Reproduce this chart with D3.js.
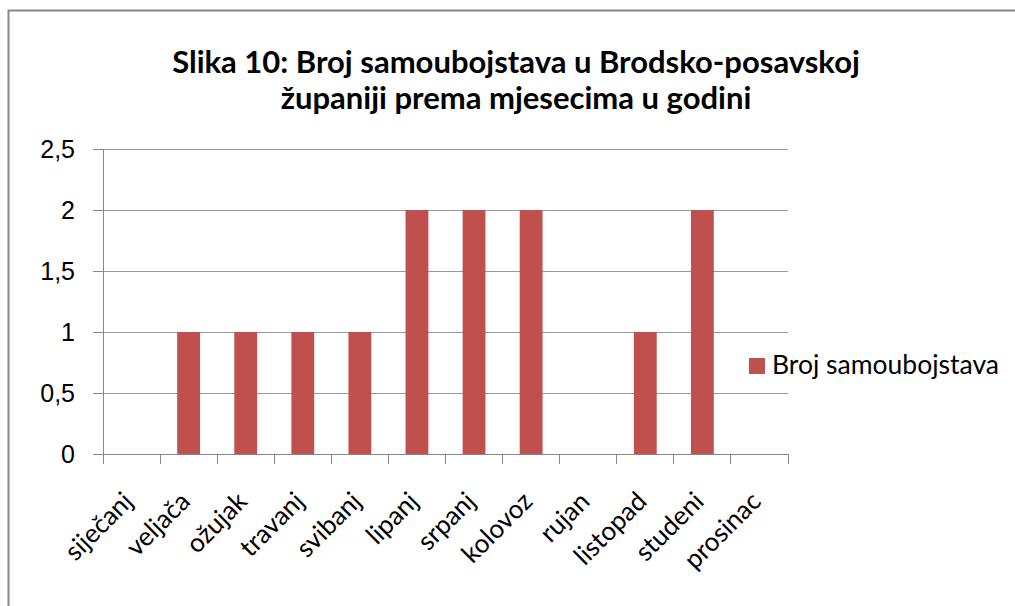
<!DOCTYPE html>
<meta charset="utf-8">
<style>
body { margin: 0; background: #fff; }
svg { font-family: Lato, "Open Sans", sans-serif; }
.axis text { font-size: 25px; fill: #000; }
.axis .xl { font-size: 26px; }
.axis path, .axis line { stroke: #888; fill: none; shape-rendering: crispEdges; }
.grid line { stroke: #999; shape-rendering: crispEdges; }
.title { font-size: 31px; font-weight: bold; }
.legend text { font-size: 26.5px; }
</style>
<body>
<div id="chart"></div>
<script src="https://cdn.jsdelivr.net/npm/d3@7"></script>
<script>
var months = ["siječanj", "veljača", "ožujak", "travanj", "svibanj", "lipanj",
              "srpanj", "kolovoz", "rujan", "listopad", "studeni", "prosinac"];
var counts = [0, 1, 1, 1, 1, 2, 2, 2, 0, 1, 2, 0];
var yTicks = [0, 0.5, 1, 1.5, 2, 2.5];
var seriesName = "Broj samoubojstava";
var titleLines = ["Slika 10: Broj samoubojstava u Brodsko-posavskoj",
                  "županiji prema mjesecima u godini"];

var W = 1015, H = 606,
    margin = {top: 149, left: 103, right: 1015 - 788, bottom: 606 - 454},
    width = W - margin.left - margin.right,
    height = H - margin.top - margin.bottom;

var svg = d3.select("#chart").append("svg")
    .attr("width", W).attr("height", H);

// outer chart border
svg.append("rect")
    .attr("x", 8.5).attr("y", 10.5)
    .attr("width", W + 20).attr("height", H + 20)
    .attr("fill", "#fff").attr("stroke", "#888").attr("stroke-width", 2);

svg.append("g").attr("class", "title")
  .selectAll("text").data(titleLines).enter().append("text")
    .attr("x", 516).attr("y", function(d, i) { return 73 + i * 36; })
    .attr("text-anchor", "middle")
    .text(function(d) { return d; });

var g = svg.append("g")
    .attr("transform", "translate(" + margin.left + "," + margin.top + ")");

var x = d3.scaleBand().domain(months).range([0, width]).paddingInner(0.6).paddingOuter(0.3);
var xb = d3.scaleBand().domain(months).range([0, width]);
var y = d3.scaleLinear().domain([0, 2.5]).range([height, 0]);

g.append("g").attr("class", "grid")
  .selectAll("line").data(yTicks.slice(1)).enter().append("line")
    .attr("x1", 0).attr("x2", width)
    .attr("y1", function(d) { return y(d); })
    .attr("y2", function(d) { return y(d); });

g.selectAll(".bar").data(counts).enter().append("rect")
    .attr("class", "bar")
    .attr("x", function(d, i) { return x(months[i]); })
    .attr("width", x.bandwidth())
    .attr("y", function(d) { return y(d); })
    .attr("height", function(d) { return height - y(d); })
    .attr("fill", "#c0504d");

var fmt = function(d) { return String(d).replace(".", ","); };

g.append("g").attr("class", "axis")
    .call(d3.axisLeft(y).tickValues(yTicks).tickFormat(fmt).tickSize(10).tickPadding(18))
    .call(function(a) { a.select(".domain").attr("d", "M0,0V" + height); });

// x axis: ticks at band boundaries
var xAxis = g.append("g").attr("class", "axis")
    .attr("transform", "translate(0," + height + ")");
xAxis.append("line").attr("x1", -10).attr("x2", width);
xAxis.selectAll(".tk").data(months.concat(["end"])).enter().append("line")
    .attr("class", "tk")
    .attr("x1", function(d, i) { return i < months.length ? xb(d) : width; })
    .attr("x2", function(d, i) { return i < months.length ? xb(d) : width; })
    .attr("y1", 0).attr("y2", 10);
xAxis.selectAll(".xl").data(months).enter().append("text")
    .attr("class", "xl")
    .attr("transform", function(d) {
      return "translate(" + (xb(d) + xb.bandwidth() / 2 + 3) + ",49) rotate(-45)";
    })
    .attr("text-anchor", "end")
    .text(function(d) { return d; });

var legend = svg.append("g").attr("class", "legend")
    .attr("transform", "translate(749,358)");
legend.append("rect").attr("width", 16).attr("height", 16).attr("fill", "#c0504d");
legend.append("text").attr("x", 23).attr("y", 16).text(seriesName);
</script>
</body>
